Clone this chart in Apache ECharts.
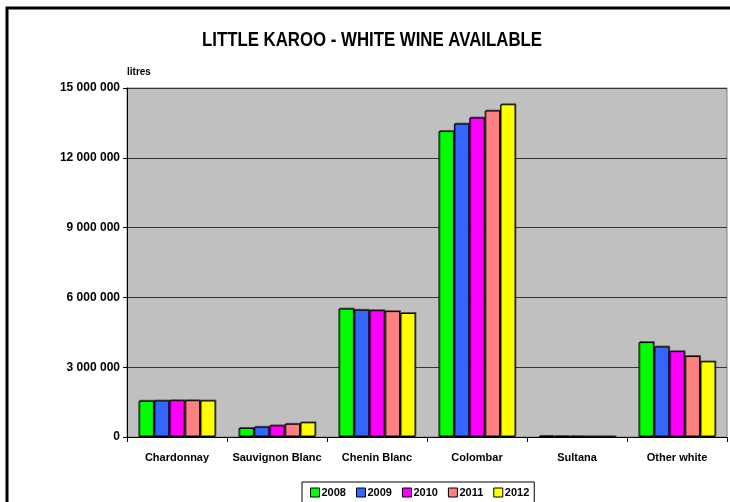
<!DOCTYPE html>
<html>
<head>
<meta charset="utf-8">
<script src="https://cdn.jsdelivr.net/npm/echarts@6/dist/echarts.min.js"></script>
<style>
  html, body { margin: 0; padding: 0; background: #fff; }
  #chart { width: 730px; height: 502px; }
</style>
</head>
<body>
<div id="chart"></div>
<script>
// categories and yearly values (litres)
let categoryList = ['Chardonnay', 'Sauvignon Blanc', 'Chenin Blanc', 'Colombar', 'Sultana', 'Other white']
let yearList = ['2008', '2009', '2010', '2011', '2012']
let colorList = ['#00ff00', '#3366ff', '#ff00ff', '#ff8080', '#ffff00']
let values2008 = [1560000, 390000, 5520000, 13150000, 45000, 4080000]
let values2009 = [1570000, 440000, 5470000, 13470000, 25000, 3890000]
let values2010 = [1580000, 500000, 5450000, 13730000, 15000, 3690000]
let values2011 = [1580000, 570000, 5410000, 14030000, 5000, 3480000]
let values2012 = [1570000, 630000, 5330000, 14300000, 3000, 3250000]
let valueList = [values2008, values2009, values2010, values2011, values2012]
let yTicks = [0, 3000000, 6000000, 9000000, 12000000, 15000000]

let chart = echarts.init(document.getElementById('chart'))

function fmt (v) {
  return String(v).replace(/\B(?=(\d{3})+(?!\d))/g, ' ')
}

let series = []
for (let i = 0; i < yearList.length; i++) {
  series.push({
    name: yearList[i],
    type: 'bar',
    barGap: '0%',
    barCategoryGap: '23%',
    itemStyle: {
      color: colorList[i],
      borderColor: '#000',
      borderWidth: 1,
      shadowColor: 'rgba(0,0,0,0.45)',
      shadowOffsetX: 1,
      shadowOffsetY: -1
    },
    data: valueList[i]
  })
}

let option = {
  animation: false,
  textStyle: { fontFamily: 'Liberation Sans, Arial, sans-serif' },
  graphic: [
    {
      type: 'rect',
      shape: { x: 7, y: 8, width: 760, height: 540 },
      style: { fill: 'none', stroke: '#000', lineWidth: 3 },
      silent: true
    },
    // title, drawn narrow like the original
    {
      type: 'text',
      x: 372,
      y: 40,
      scaleX: 0.8,
      style: {
        text: 'LITTLE KAROO - WHITE WINE AVAILABLE',
        font: 'bold 21px Liberation Sans',
        fill: '#000',
        textAlign: 'center',
        textVerticalAlign: 'middle'
      }
    },
    {
      type: 'text',
      left: 127,
      top: 67,
      style: { text: 'litres', font: 'bold 10px Liberation Sans', fill: '#000' }
    }
  ],
  legend: {
    data: yearList,
    left: 302,
    top: 482,
    padding: [5, 5, 5, 8],
    itemWidth: 9,
    itemHeight: 9,
    itemGap: 10,
    borderColor: '#000',
    borderWidth: 1,
    icon: 'rect',
    itemStyle: { borderColor: '#000', borderWidth: 1, shadowOffsetX: 0, shadowOffsetY: 0, shadowColor: 'transparent' },
    textStyle: { fontSize: 11, fontWeight: 'bold', color: '#000', padding: [0, 0, 0, -3] }
  },
  grid: {
    left: 127,
    right: 3,
    top: 88,
    bottom: 65,
    show: true,
    backgroundColor: '#c0c0c0',
    borderColor: '#808080',
    borderWidth: 1
  },
  xAxis: {
    type: 'category',
    data: categoryList,
    axisLine: { lineStyle: { color: '#000', width: 1 } },
    axisTick: { show: true, length: 5, lineStyle: { color: '#000' } },
    axisLabel: { color: '#000', fontSize: 11, fontWeight: 'bold', margin: 15, interval: 0 }
  },
  yAxis: {
    type: 'value',
    min: yTicks[0],
    max: yTicks[yTicks.length - 1],
    interval: yTicks[1] - yTicks[0],
    axisLine: { show: true, lineStyle: { color: '#000', width: 1 } },
    axisTick: { show: true, length: 4, lineStyle: { color: '#000' } },
    axisLabel: { color: '#000', fontSize: 12, fontWeight: 'bold', margin: 7, formatter: fmt },
    splitLine: { lineStyle: { color: '#333', width: 1 } }
  },
  series: series
}
chart.setOption(option)
</script>
</body>
</html>
